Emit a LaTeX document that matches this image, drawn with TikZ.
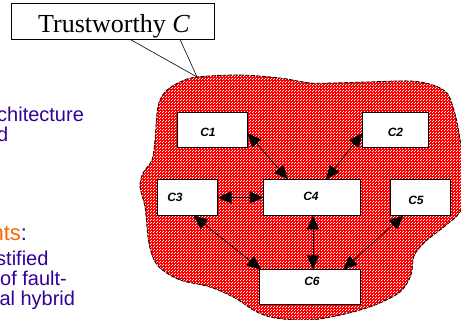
\documentclass[tikz,border=0pt]{standalone}
\usepackage{fontspec}
\setmainfont{Liberation Serif}
\newfontfamily\arial{Liberation Sans}
\usetikzlibrary{arrows.meta,patterns}
\definecolor{slidepurple}{HTML}{330099}
\definecolor{slideorange}{HTML}{FF6600}
% fine white mesh laid over the red fill of the region
\pgfdeclarepatternformonly{whitemesh}{\pgfpointorigin}{\pgfqpoint{3pt}{3pt}}{\pgfqpoint{3pt}{3pt}}{%
  \pgfpathrectangle{\pgfpointorigin}{\pgfqpoint{1pt}{1pt}}%
  \pgfpathrectangle{\pgfqpoint{1.5pt}{1.5pt}}{\pgfqpoint{1pt}{1pt}}%
  \pgfusepath{fill}%
}
\tikzset{
  region/.style={preaction={fill=red}, pattern=whitemesh, pattern color=white},
  regionedge/.style={draw=black, line width=0.8pt, dash pattern=on 4pt off 1.5pt},
  compbox/.style={draw=black, line width=1.6pt, fill=white, inner sep=0pt, outer sep=0pt},
  lbl/.style={font=\arial\fontsize{12}{14}\selectfont\bfseries\itshape, inner sep=0pt},
  link/.style={line width=0.7pt, {Triangle[length=14pt,width=12pt]}-{Triangle[length=14pt,width=12pt]}},
  slidetext/.style={font=\arial\fontsize{20}{20}\selectfont, text=slidepurple, inner sep=0pt, anchor=base west},
}
\begin{document}
\begin{tikzpicture}[x=1pt, y=-1pt]
\useasboundingbox (0,0) rectangle (461,320);

% text of the slide, cut at the left border
\node[slidetext] (t1) at (-3,122) {chitecture};
\node[slidetext] (t2) at (-3,142) {d};
\node[slidetext, font=\arial\fontsize{22}{22}\selectfont] (t3) at (-8.6,241) {\textcolor{slideorange}{nts}:};
\node[slidetext] (t4) at (-4,266) {stified};
\node[slidetext] (t5) at (0,286) {of fault-};
\node[slidetext] (t6) at (-0.7,306) {al hybrid};

% the trustworthy region
\def\regionpath{plot[smooth cycle, tension=0.55] coordinates {
  (197,77) (240,75) (280,78) (310,83) (333,83) (367,82) (410,81) (433,85)
  (447,93) (453,107) (458,127) (463,160) (466,190) (460,212) (445,226)
  (425,242) (414,256) (411,275) (400,292) (375,305) (345,314) (310,320)
  (275,318) (255,311) (235,298) (210,287) (180,280) (160,268) (152,255)
  (148,237) (145,207) (140,187) (143,173) (152,160) (155,140) (157,113)
  (160,100) (167,90) (180,82)}}
\path[region] \regionpath;
\path[regionedge] \regionpath;

% callout naming the region
\coordinate (tip) at (197,77);
\node[draw=black, line width=0.6pt, fill=white, minimum width=203pt, minimum height=36pt, inner sep=0pt] (callout) at (112.5,21) {};
\draw[line width=0.6pt] ([xshift=17.5pt]callout.south) -- (tip) -- ([xshift=67.5pt]callout.south);
\node[anchor=base, inner sep=0pt, font=\fontsize{26}{30}\selectfont] (ctext) at (114,33) {Trustworthy \textit{C}};

% components
\node[compbox, minimum width=70pt, minimum height=35pt, label={[lbl, xshift=-4.5pt, yshift=-2pt]center:C1}] (c1) at (212.5,130) {};
\node[compbox, minimum width=66pt, minimum height=35pt, label={[lbl, yshift=-2pt]center:C2}] (c2) at (395.5,130) {};
\node[compbox, minimum width=60pt, minimum height=36pt, label={[lbl, xshift=-12.5pt, yshift=0.5pt]center:C3}] (c3) at (187.5,197.5) {};
\node[compbox, minimum width=97pt, minimum height=36pt, label={[lbl, xshift=-1pt, yshift=1.5pt]center:C4}] (c4) at (312,197.5) {};
\node[compbox, minimum width=60pt, minimum height=36pt, label={[lbl, xshift=-4.5pt, yshift=-2.5pt]center:C5}] (c5) at (420.5,197.5) {};
\node[compbox, minimum width=101pt, minimum height=35pt, label={[lbl, xshift=2pt, yshift=6pt]center:C6}] (c6) at (310,287) {};

% two-way links between components
\draw[link] ([yshift=-3pt]c1.east) -- ([xshift=-24pt]c4.north);
\draw[link] ([yshift=-3pt]c2.west) -- ([xshift=14pt]c4.north);
\draw[link] (c3.east) -- (c4.west);
\draw[link] ([xshift=1pt]c4.south) -- ([xshift=1pt]c4.south |- c6.north);
\draw[link] ([xshift=6pt]c3.south) -- ([xshift=-49pt]c6.north);
\draw[link] ([xshift=-17pt]c5.south) -- ([xshift=33pt]c6.north);
\end{tikzpicture}
\end{document}
